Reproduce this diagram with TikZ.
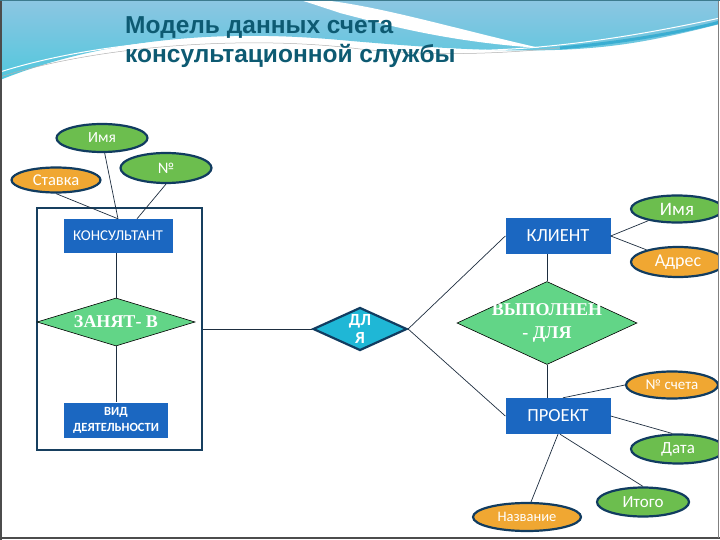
\documentclass[tikz,border=0pt]{standalone}
\usepackage{fontspec}
\setmainfont{Liberation Serif}
\newfontfamily\titlefont{Liberation Sans}
\newfontfamily\calfont{Carlito}
\usetikzlibrary{shapes.geometric}
\definecolor{attgreen}{HTML}{6CBE4E}
\definecolor{attorange}{HTML}{F0A732}
\definecolor{navyb}{HTML}{113C60}
\definecolor{entblue}{HTML}{1B67C1}
\definecolor{relgreen}{HTML}{62D587}
\definecolor{cyanrel}{HTML}{1FB7D6}
\definecolor{framec}{HTML}{173F5F}
\definecolor{linec}{HTML}{1E2E40}
\definecolor{titlec}{HTML}{0D5A72}
\definecolor{bgtop}{HTML}{8CC6E2}
\definecolor{bgbot}{HTML}{52C7DD}
\definecolor{bgband}{HTML}{3AAED2}
\begin{document}
\begin{tikzpicture}[x=1pt,y=-1pt,
  attr/.style={ellipse, draw=navyb, line width=2.2pt, inner sep=0pt, text=white,
    font=\calfont\fontsize{15}{17}\selectfont},
  gattr/.style={attr, fill=attgreen},
  oattr/.style={attr, fill=attorange},
  fs/.style={font=\calfont\fontsize{#1}{#1}\selectfont},
  ent/.style={rectangle, fill=entblue, inner sep=0pt, text=white, align=center,
    font=\calfont\fontsize{15}{18}\selectfont},
  rel/.style={diamond, draw=black, line width=0.6pt, fill=relgreen, inner sep=0pt},
  rellab/.style={text=white, inner sep=0pt, align=center,
    font=\bfseries\fontsize{18}{23}\selectfont},
  conn/.style={draw=linec, line width=0.7pt},
  titletext/.style={anchor=base west, inner sep=0pt, text=titlec,
    font=\titlefont\bfseries\fontsize{24.5}{29}\selectfont}
]
\useasboundingbox (0,0) rectangle (720,540);
\fill[white] (0,0) rectangle (720,540);
\begin{scope}
\clip (0,0) rectangle (718,538);
% background decoration
\shade[top color=bgtop, bottom color=bgbot]
  (0,0) -- (720,0) -- (720,24) .. controls (680,34) and (640,44) .. (590,48)
  .. controls (520,54) and (430,48) .. (340,40)
  .. controls (230,30) and (110,36) .. (0,80) -- cycle;
\fill[white] (300,0) -- (322,0) .. controls (380,6) and (460,30) .. (540,48)
  .. controls (450,42) and (390,26) .. (340,13)
  .. controls (322,7) and (310,3) .. (300,0) -- cycle;
\draw[white, line width=1pt] (0,72) .. controls (100,40) and (250,30) .. (360,45)
  .. controls (450,55) and (550,55) .. (720,18);
\draw[gray!60, line width=0.5pt] (0,77) .. controls (100,45) and (250,35) .. (360,49)
  .. controls (450,58) and (560,56) .. (720,22);
\draw[bgband, line width=3pt] (560,48) .. controls (630,42) and (690,30) .. (720,22);

% title
\node[titletext] (t1) at (125,34) {Модель данных счета};
\node[titletext] (t2) at (125,63) {консультационной службы};

% frame
\node[draw=framec, line width=2pt, minimum width=165pt, minimum height=242pt, inner sep=0pt] (frame) at (119.5,329) {};

% attributes
\node[gattr, fs=15.5, minimum width=91pt, minimum height=28pt] (imyaL) at (102,138) {Имя};
\node[oattr, fs=16.5, minimum width=89pt, minimum height=25pt] (stavka) at (56,180) {Ставка};
\node[gattr, fs=16, minimum width=91pt, minimum height=30pt] (num) at (166,168) {№};
\node[gattr, fs=19, minimum width=92pt, minimum height=27pt] (imyaR) at (677,209) {Имя};
\node[oattr, fs=18, minimum width=94pt, minimum height=30pt] (adres) at (678,262) {Адрес};
\node[oattr, fs=15, minimum width=92pt, minimum height=27pt] (schet) at (672,385) {№ счета};
\node[gattr, fs=17, minimum width=94pt, minimum height=29pt] (data) at (678,449) {Дата};
\node[gattr, fs=17, minimum width=92pt, minimum height=29pt] (itogo) at (643,502) {Итого};
\node[oattr, fs=14.5, minimum width=108pt, minimum height=28pt] (nazv) at (527,517) {Название};

% entities
\node[ent, minimum width=109pt, minimum height=34pt] (kons) at (118,236) {КОНСУЛЬТАНТ};
\node[ent, minimum width=104pt, minimum height=35pt, font=\calfont\bfseries\fontsize{12.5}{16}\selectfont] (vid) at (116,420) {ВИД\\ДЕЯТЕЛЬНОСТИ};
\node[ent, minimum width=105pt, minimum height=35pt, font=\calfont\fontsize{18.5}{20}\selectfont] (klient) at (558,236) {КЛИЕНТ};
\node[ent, minimum width=105pt, minimum height=36pt, font=\calfont\fontsize{18.5}{20}\selectfont] (proekt) at (558,416) {ПРОЕКТ};

% relationships
\node[rel, minimum width=158pt, minimum height=48pt] (zanyat) at (116,322) {};
\node[rellab] (zanyatT) at (zanyat.center) {ЗАНЯТ- В};
\node[rel, minimum width=180pt, minimum height=83pt] (vyp) at (547,323) {};
\node[rellab] (vypT) at (vyp.center) {ВЫПОЛНЕН\\- ДЛЯ};
\node[diamond, draw=navyb, line width=2.2pt, fill=cyanrel, inner sep=0pt,
  minimum width=94pt, minimum height=43pt] (dlya) at (360,329) {};
\node[text=white, inner sep=0pt, align=center,
  font=\calfont\bfseries\fontsize{17}{18}\selectfont] (dlyaT) at (dlya.center) {ДЛ\\Я};

% connectors
\draw[conn] (stavka.south) -- (kons.north);
\draw[conn] (imyaL.-80) -- (kons.north);
\draw[conn] (num.south) -- ([xshift=19pt]kons.north);
\draw[conn] (zanyat.north) -- (zanyat.north |- kons.south);
\draw[conn] (zanyat.south) -- (zanyat.south |- vid.north);
\draw[conn] (frame.east) -- (dlya.west);
\draw[conn] (dlya.east) -- (klient.west);
\draw[conn] (dlya.east) -- (proekt.west);
\draw[conn] (klient.east) -- (imyaR);
\draw[conn] (klient.east) -- (adres);
\draw[conn] (vyp.north) -- (vyp.north |- klient.south);
\draw[conn] (vyp.south) -- (vyp.south |- proekt.north);
\draw[conn] ([xshift=5pt]proekt.north) -- (schet.west);
\draw[conn] (proekt.east) -- (data.110);
\draw[conn] ([xshift=2pt]proekt.south) -- (itogo.north);
\draw[conn] (proekt.south) -- (nazv.75);
\end{scope}
% slide border
\draw[black!70, line width=2pt] (1,0) -- (1,540);
\draw[black!70, line width=1.6pt] (0,538.2) -- (720,538.2);
\draw[gray, line width=0.8pt] (718.5,0) -- (718.5,538);
\draw[titlec!80, line width=1pt] (0,0.5) -- (720,0.5);
\end{tikzpicture}
\end{document}
